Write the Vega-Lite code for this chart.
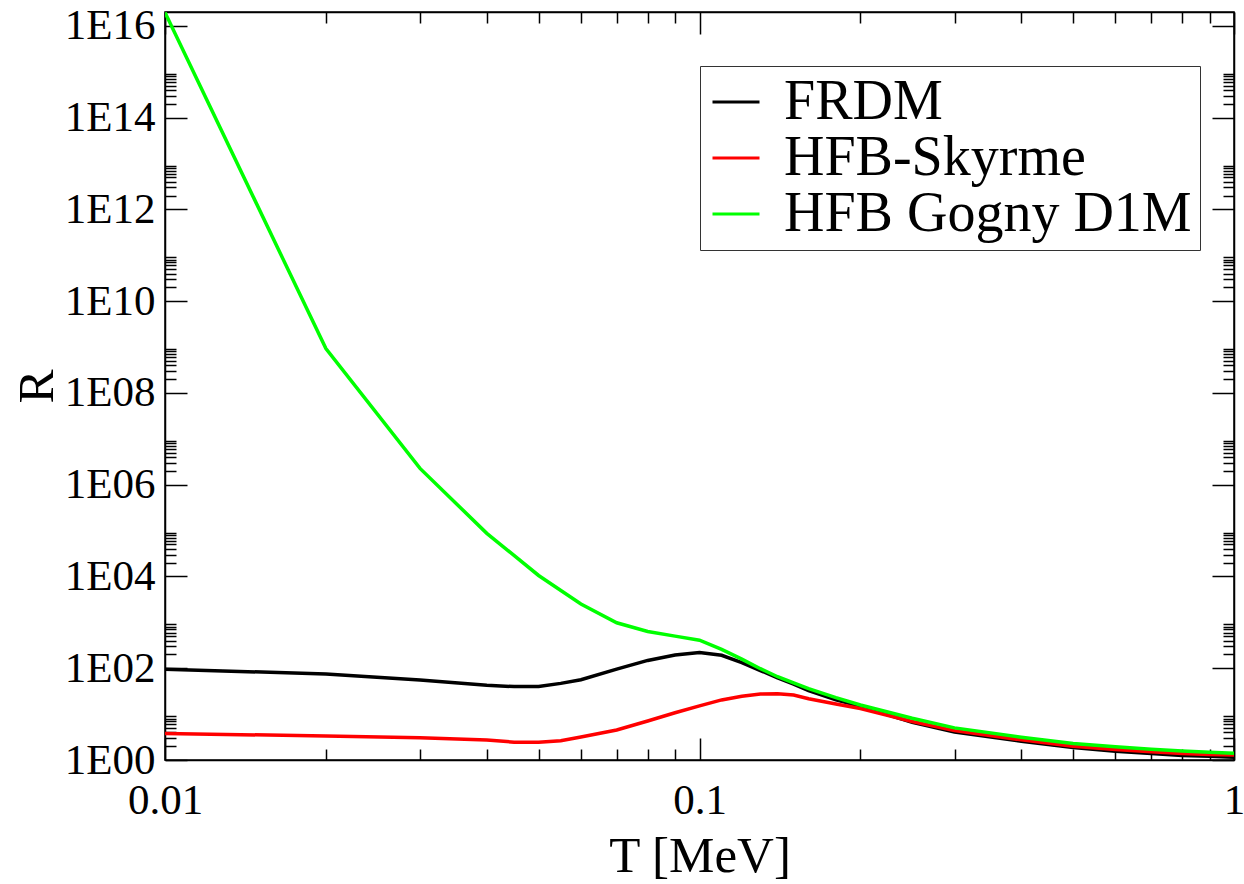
{
  "$schema": "https://vega.github.io/schema/vega-lite/v6.json",
  "autosize": {"type": "none"},
  "padding": {"left": 165, "top": 12, "right": 10, "bottom": 124},
  "width": 1069,
  "height": 748,
  "background": "white",
  "config": {
    "font": "Liberation Serif",
    "view": {"stroke": "black", "strokeWidth": 1.5},
    "axis": {"grid": false, "domainColor": "black", "domainWidth": 1.5, "tickColor": "black", "tickWidth": 1.5, "labelColor": "black", "titleColor": "black", "labelFlush": false, "labelOverlap": false, "labelBound": false, "titleFontWeight": "normal"}
  },
  "data": {"values": [
    {"model": "FRDM", "T": 0.01, "R": 95.5},
    {"model": "FRDM", "T": 0.02, "R": 74.8},
    {"model": "FRDM", "T": 0.03, "R": 55.3},
    {"model": "FRDM", "T": 0.04, "R": 42.4},
    {"model": "FRDM", "T": 0.045, "R": 39.8},
    {"model": "FRDM", "T": 0.05, "R": 39.8},
    {"model": "FRDM", "T": 0.055, "R": 46.8},
    {"model": "FRDM", "T": 0.06, "R": 56.2},
    {"model": "FRDM", "T": 0.07, "R": 95.5},
    {"model": "FRDM", "T": 0.08, "R": 148},
    {"model": "FRDM", "T": 0.09, "R": 195},
    {"model": "FRDM", "T": 0.1, "R": 219},
    {"model": "FRDM", "T": 0.11, "R": 191},
    {"model": "FRDM", "T": 0.12, "R": 132},
    {"model": "FRDM", "T": 0.13, "R": 89.1},
    {"model": "FRDM", "T": 0.14, "R": 61.7},
    {"model": "FRDM", "T": 0.15, "R": 45.2},
    {"model": "FRDM", "T": 0.16, "R": 32.4},
    {"model": "FRDM", "T": 0.18, "R": 20.4},
    {"model": "FRDM", "T": 0.2, "R": 14.8},
    {"model": "FRDM", "T": 0.25, "R": 6.61},
    {"model": "FRDM", "T": 0.3, "R": 4.07},
    {"model": "FRDM", "T": 0.4, "R": 2.57},
    {"model": "FRDM", "T": 0.5, "R": 1.86},
    {"model": "FRDM", "T": 0.6, "R": 1.55},
    {"model": "FRDM", "T": 0.7, "R": 1.38},
    {"model": "FRDM", "T": 0.8, "R": 1.26},
    {"model": "FRDM", "T": 0.9, "R": 1.2},
    {"model": "FRDM", "T": 1.0, "R": 1.15},
    {"model": "HFB-Skyrme", "T": 0.01, "R": 3.8},
    {"model": "HFB-Skyrme", "T": 0.02, "R": 3.33},
    {"model": "HFB-Skyrme", "T": 0.03, "R": 3.06},
    {"model": "HFB-Skyrme", "T": 0.04, "R": 2.73},
    {"model": "HFB-Skyrme", "T": 0.045, "R": 2.45},
    {"model": "HFB-Skyrme", "T": 0.05, "R": 2.43},
    {"model": "HFB-Skyrme", "T": 0.055, "R": 2.63},
    {"model": "HFB-Skyrme", "T": 0.06, "R": 3.16},
    {"model": "HFB-Skyrme", "T": 0.07, "R": 4.51},
    {"model": "HFB-Skyrme", "T": 0.08, "R": 7.08},
    {"model": "HFB-Skyrme", "T": 0.09, "R": 10.7},
    {"model": "HFB-Skyrme", "T": 0.1, "R": 15.1},
    {"model": "HFB-Skyrme", "T": 0.11, "R": 20.4},
    {"model": "HFB-Skyrme", "T": 0.12, "R": 24.5},
    {"model": "HFB-Skyrme", "T": 0.13, "R": 27.5},
    {"model": "HFB-Skyrme", "T": 0.14, "R": 27.9},
    {"model": "HFB-Skyrme", "T": 0.15, "R": 26.0},
    {"model": "HFB-Skyrme", "T": 0.16, "R": 21.6},
    {"model": "HFB-Skyrme", "T": 0.18, "R": 16.6},
    {"model": "HFB-Skyrme", "T": 0.2, "R": 13.2},
    {"model": "HFB-Skyrme", "T": 0.25, "R": 6.92},
    {"model": "HFB-Skyrme", "T": 0.3, "R": 4.37},
    {"model": "HFB-Skyrme", "T": 0.4, "R": 2.75},
    {"model": "HFB-Skyrme", "T": 0.5, "R": 2.0},
    {"model": "HFB-Skyrme", "T": 0.6, "R": 1.7},
    {"model": "HFB-Skyrme", "T": 0.7, "R": 1.51},
    {"model": "HFB-Skyrme", "T": 0.8, "R": 1.38},
    {"model": "HFB-Skyrme", "T": 0.9, "R": 1.32},
    {"model": "HFB-Skyrme", "T": 1.0, "R": 1.29},
    {"model": "HFB Gogny D1M", "T": 0.01, "R": 1.95e16},
    {"model": "HFB Gogny D1M", "T": 0.02, "R": 9.23e8},
    {"model": "HFB Gogny D1M", "T": 0.03, "R": 2.26e6},
    {"model": "HFB Gogny D1M", "T": 0.04, "R": 8.71e4},
    {"model": "HFB Gogny D1M", "T": 0.05, "R": 1.05e4},
    {"model": "HFB Gogny D1M", "T": 0.06, "R": 2512},
    {"model": "HFB Gogny D1M", "T": 0.07, "R": 977},
    {"model": "HFB Gogny D1M", "T": 0.08, "R": 631},
    {"model": "HFB Gogny D1M", "T": 0.09, "R": 501},
    {"model": "HFB Gogny D1M", "T": 0.1, "R": 407},
    {"model": "HFB Gogny D1M", "T": 0.11, "R": 257},
    {"model": "HFB Gogny D1M", "T": 0.12, "R": 158},
    {"model": "HFB Gogny D1M", "T": 0.13, "R": 97.7},
    {"model": "HFB Gogny D1M", "T": 0.14, "R": 65.3},
    {"model": "HFB Gogny D1M", "T": 0.15, "R": 47.9},
    {"model": "HFB Gogny D1M", "T": 0.16, "R": 35.9},
    {"model": "HFB Gogny D1M", "T": 0.18, "R": 22.9},
    {"model": "HFB Gogny D1M", "T": 0.2, "R": 15.8},
    {"model": "HFB Gogny D1M", "T": 0.25, "R": 8.13},
    {"model": "HFB Gogny D1M", "T": 0.3, "R": 5.01},
    {"model": "HFB Gogny D1M", "T": 0.4, "R": 3.13},
    {"model": "HFB Gogny D1M", "T": 0.5, "R": 2.29},
    {"model": "HFB Gogny D1M", "T": 0.6, "R": 1.95},
    {"model": "HFB Gogny D1M", "T": 0.7, "R": 1.71},
    {"model": "HFB Gogny D1M", "T": 0.8, "R": 1.57},
    {"model": "HFB Gogny D1M", "T": 0.9, "R": 1.47},
    {"model": "HFB Gogny D1M", "T": 1.0, "R": 1.4}
  ]},
  "layer": [
    {
      "mark": {"type": "line", "strokeWidth": 3.5, "clip": true},
      "encoding": {
        "x": {"field": "T", "type": "quantitative",
          "scale": {"type": "log", "domain": [0.01, 1], "nice": false},
          "axis": {"orient": "bottom",
            "values": [0.01,0.02,0.03,0.04,0.05,0.06,0.07,0.08,0.09,0.1,0.2,0.3,0.4,0.5,0.6,0.7,0.8,0.9,1],
            "format": "~g",
            "labelExpr": "indexof([0.01,0.1,1], datum.value) >= 0 ? datum.label : ''",
            "tickSize": {"condition": {"test": "indexof([0.01,0.1,1], datum.value) >= 0", "value": -22}, "value": -11},
            "labelPadding": 41, "labelFontSize": 43,
            "title": "T [MeV]", "titleFontSize": 51, "titleY": 111, "titleBaseline": "alphabetic"}},
        "y": {"field": "R", "type": "quantitative",
          "scale": {"type": "log", "domain": [1, 2e16], "nice": false},
          "axis": {"orient": "left",
            "values": [1,2,3,4,5,6,7,8,9,100,200,300,400,500,600,700,800,900,1e4,2e4,3e4,4e4,5e4,6e4,7e4,8e4,9e4,1e6,2e6,3e6,4e6,5e6,6e6,7e6,8e6,9e6,1e8,2e8,3e8,4e8,5e8,6e8,7e8,8e8,9e8,1e10,2e10,3e10,4e10,5e10,6e10,7e10,8e10,9e10,1e12,2e12,3e12,4e12,5e12,6e12,7e12,8e12,9e12,1e14,2e14,3e14,4e14,5e14,6e14,7e14,8e14,9e14,1e16],
            "labelExpr": "abs(log(datum.value)/LN10 - round(log(datum.value)/LN10)) < 0.001 ? '1E' + format(round(log(datum.value)/LN10), '02d') : ''",
            "tickSize": {"condition": {"test": "abs(log(datum.value)/LN10 - round(log(datum.value)/LN10)) < 0.001", "value": -22}, "value": -11},
            "labelPadding": 32, "labelFontSize": 43,
            "title": "R", "titleFontSize": 51, "titleX": -113, "titleY": 374, "titleAngle": 270, "titleAlign": "center", "titleBaseline": "alphabetic"}},
        "color": {"field": "model", "type": "nominal",
          "sort": ["FRDM", "HFB-Skyrme", "HFB Gogny D1M"],
          "scale": {"domain": ["FRDM", "HFB-Skyrme", "HFB Gogny D1M"], "range": ["#000000", "#ff0000", "#00ff00"]},
          "legend": {"orient": "none", "legendX": 535, "legendY": 54, "title": null,
            "symbolType": "stroke", "symbolSize": 2209, "symbolStrokeWidth": 3,
            "labelFontSize": 56, "labelOffset": 20, "labelLimit": 0, "labelColor": "black",
            "rowPadding": -1, "padding": 8, "strokeColor": "#333333", "fillColor": "white"}}
      }
    },
    {
      "mark": {"type": "line", "strokeOpacity": 0, "clip": true},
      "encoding": {
        "x": {"field": "T", "type": "quantitative",
          "axis": {"orient": "top", "labels": false, "title": null,
            "values": [0.01,0.02,0.03,0.04,0.05,0.06,0.07,0.08,0.09,0.1,0.2,0.3,0.4,0.5,0.6,0.7,0.8,0.9,1],
            "tickSize": {"condition": {"test": "indexof([0.01,0.1,1], datum.value) >= 0", "value": -22}, "value": -11}}},
        "y": {"field": "R", "type": "quantitative",
          "axis": {"orient": "right", "labels": false, "title": null,
            "values": [1,2,3,4,5,6,7,8,9,100,200,300,400,500,600,700,800,900,1e4,2e4,3e4,4e4,5e4,6e4,7e4,8e4,9e4,1e6,2e6,3e6,4e6,5e6,6e6,7e6,8e6,9e6,1e8,2e8,3e8,4e8,5e8,6e8,7e8,8e8,9e8,1e10,2e10,3e10,4e10,5e10,6e10,7e10,8e10,9e10,1e12,2e12,3e12,4e12,5e12,6e12,7e12,8e12,9e12,1e14,2e14,3e14,4e14,5e14,6e14,7e14,8e14,9e14,1e16],
            "tickSize": {"condition": {"test": "abs(log(datum.value)/LN10 - round(log(datum.value)/LN10)) < 0.001", "value": -22}, "value": -11}}},
        "detail": {"field": "model", "type": "nominal"}
      }
    }
  ],
  "resolve": {"axis": {"x": "independent", "y": "independent"}}
}
